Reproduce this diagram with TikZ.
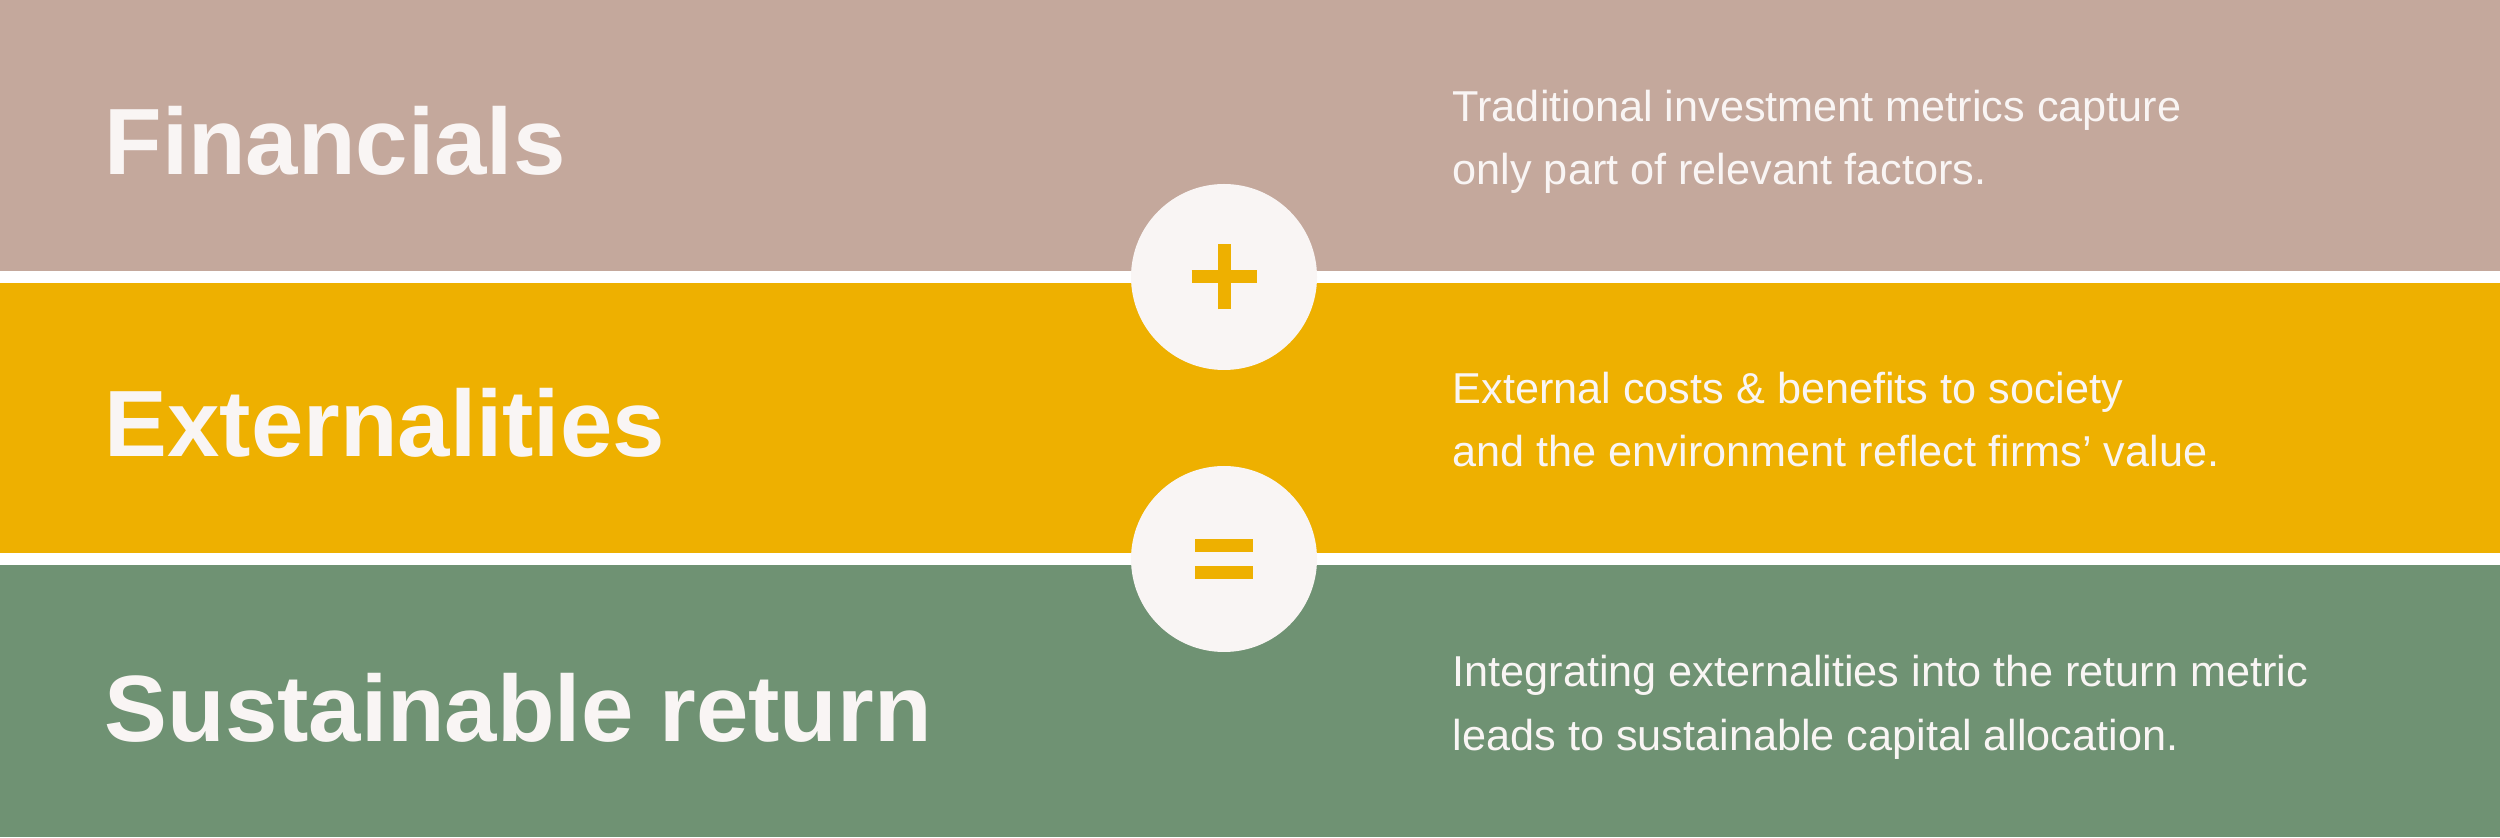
\documentclass[tikz,border=0pt]{standalone}
\usepackage{fontspec}
\setmainfont{Liberation Sans}
\usetikzlibrary{positioning}

\begin{document}
\begin{tikzpicture}
  \definecolor{topcol}{HTML}{C4A89C}
  \definecolor{midcol}{HTML}{EEB000}
  \definecolor{botcol}{HTML}{6F9273}
  \definecolor{paper}{HTML}{F9F5F4}
  \tikzstyle{title}=[anchor=base west, inner sep=0, text=paper, font=\fontsize{26.8}{32}\selectfont\bfseries]
  \tikzstyle{caption}=[anchor=base west, inner sep=0, text=paper, align=left, font=\fontsize{12.3}{18.2}\selectfont]
  \tikzstyle{disc}=[circle, fill=paper, minimum size=1.86cm, inner sep=0]
  \tikzstyle{bar}=[midcol, line width=0.13cm]

  % CONSTANTS
  \def\W{25}
  \def\H{8.37}
  \def\cx{12.24}

  % Background and bands
  \useasboundingbox[fill=white] (0,0) rectangle (\W,\H);
  \fill[topcol] (0,5.66) rectangle (\W,\H);
  \fill[midcol] (0,2.84) rectangle (\W,5.54);
  \fill[botcol] (0,0) rectangle (\W,2.72);

  % Operators
  \node[disc] (plus) at (\cx,5.60) {};
  \node[disc] (equals) at (\cx,2.78) {};
  \draw[bar] ([xshift=-0.325cm]plus.center) -- ([xshift=0.325cm]plus.center);
  \draw[bar] ([yshift=-0.325cm]plus.center) -- ([yshift=0.325cm]plus.center);
  \draw[bar] ([xshift=-0.29cm,yshift=0.137cm]equals.center) -- ([xshift=0.29cm,yshift=0.137cm]equals.center);
  \draw[bar] ([xshift=-0.29cm,yshift=-0.137cm]equals.center) -- ([xshift=0.29cm,yshift=-0.137cm]equals.center);

  % Titles
  \node[title] (fin) at (1.04,6.62) {Financials};
  \node[title] (ext) at (1.04,3.80) {Externalities};
  \node[title] (sus) at (1.04,0.96) {Sustainable return};

  % Descriptions (base = last line)
  \node[caption] (fintext) at (14.52,6.52) {Traditional investment metrics capture\\only part of relevant factors.};
  \node[caption] (exttext) at (14.52,3.70) {External costs \& benefits to society\\and the environment reflect firms’ value.};
  \node[caption] (sustext) at (14.52,0.87) {Integrating externalities into the return metric\\leads to sustainable capital allocation.};

\end{tikzpicture}
\end{document}
